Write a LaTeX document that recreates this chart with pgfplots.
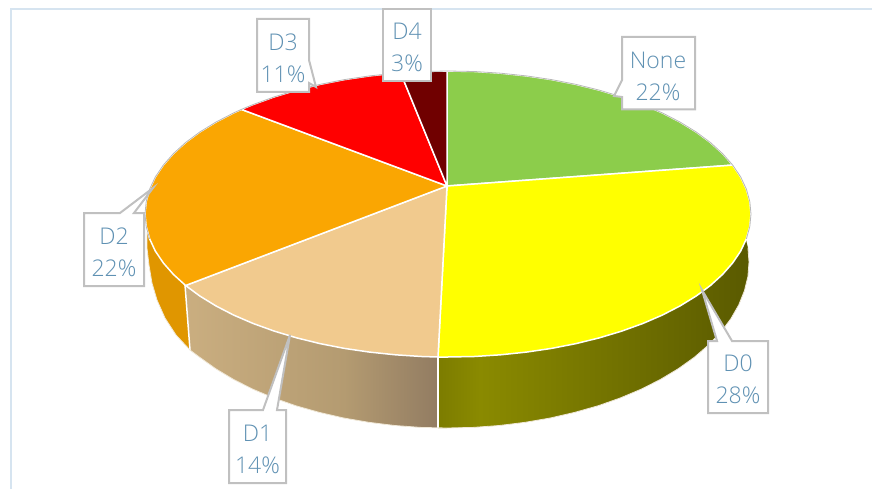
\documentclass[border=0pt]{standalone}
\usepackage{pgfplots}
\pgfplotsset{compat=1.18}
\usepackage{fontspec}
\setmainfont{Open Sans Light}
\definecolor{lbl}{HTML}{5F91B3}
\definecolor{cbx}{HTML}{C0C0C0}
\definecolor{brd}{HTML}{D6E4F0}
\newcommand{\callout}[1]{\addplot[fill=white,draw=cbx,line width=2pt,line join=miter] coordinates {#1} --cycle;}
\newcommand{\lab}[3]{\node[text=lbl,font=\fontsize{23}{26}\selectfont,inner sep=0pt] at (axis cs:#1,#2) {#3};}
\begin{document}
\begin{tikzpicture}
\begin{axis}[
  scale only axis, width=872pt, height=489pt,
  xmin=0, xmax=872, ymin=0, ymax=489, y dir=reverse,
  hide axis, no markers, clip=false]
\path[use as bounding box] (axis cs:0,0) rectangle (axis cs:872,489);
% frame
\addplot[draw=brd,line width=2pt] coordinates {(11,489)(11,9)(872,9)};
% D0 side
\addplot[left color={rgb,255:red,124;green,124;blue,0},right color={rgb,255:red,138;green,138;blue,0},draw=none] coordinates {
 (438,300)(480,300)(480,426.9)(473.3,427.4)(447,428)(438,428)} --cycle;
\addplot[left color={rgb,255:red,138;green,138;blue,0},middle color={rgb,255:red,102;green,98;blue,0},right color={rgb,255:red,90;green,90;blue,0},draw=none] coordinates {
 (480,300)(744.4,233.2)(747.9,247.5)(749,262)(747.9,276.5)(744.4,290.8)(738.7,305)(730.8,318.8)(720.7,332.2)(708.5,345)(694.4,357.2)(678.3,368.7)(660.5,379.4)(641.1,389.2)(620.2,398)(598,405.8)(574.6,412.4)(550.3,418)(525.2,422.3)(499.4,425.5)(480,426.9)} --cycle;
% D1 side
\addplot[left color={rgb,255:red,180;green,155;blue,113},right color={rgb,255:red,146;green,124;blue,98},draw=none] coordinates {
 (343.7,330)(438,340)(438,428)(420.7,427.4)(394.6,425.5)(368.8,422.3)(343.7,418)} --cycle;
\addplot[left color={rgb,255:red,202;green,174;blue,128},right color={rgb,255:red,180;green,155;blue,113},draw=none] coordinates {
 (343.7,330)(253,310)(185.6,285.5)(190,350)(199.6,357.2)(215.7,368.7)(233.5,379.4)(252.9,389.2)(273.8,398)(296,405.8)(319.4,412.4)(343.7,418)} --cycle;
% D2 side
\addplot[fill={rgb,255:red,224;green,150;blue,0},draw=none] coordinates {
  (300,214)(185.6,285.5)(190,350)(176,335)(165,318)(157,300)(152,283)(149,265)(147,248)(147,232)} --cycle;
% side dividers
\addplot[draw=white,line width=1.5pt] coordinates {(438,357)(438,428)};
\addplot[draw=white,line width=1.5pt] coordinates {(185,285)(190,350)};
% outer rim of the side
\addplot[draw={rgb,255:red,240;green,232;blue,215},line width=.8pt] coordinates {(747.9,247.5)(749,262)(747.9,276.5)(744.4,290.8)(738.7,305)(730.8,318.8)(720.7,332.2)(708.5,345)(694.4,357.2)(678.3,368.7)(660.5,379.4)(641.1,389.2)(620.2,398)(598,405.8)(574.6,412.4)(550.3,418)(525.2,422.3)(499.4,425.5)(473.3,427.4)(447,428)(420.7,427.4)(394.6,425.5)(368.8,422.3)(343.7,418)(319.4,412.4)(296,405.8)(273.8,398)(252.9,389.2)(233.5,379.4)(215.7,368.7)(199.6,357.2)(190,350)(176,335)(165,318)(157,300)(152,283)(149,265)(147,248)(147,232)};
% None
\addplot[fill={rgb,255:red,140;green,205;blue,75},draw=white,line width=1.5pt] coordinates {
 (447,186)(447,71)(474.4,71.5)(500.6,73.2)(526.4,75.9)(551.6,79.6)(576.1,84.4)(599.5,90.2)(621.8,96.9)(642.8,104.5)(662.3,112.9)(680.1,122.1)(696.2,132)(710.4,142.5)(722.6,153.6)(732.7,165.1)} --cycle;
% D0
\addplot[fill={rgb,255:red,255;green,255;blue,0},draw=white,line width=1.5pt] coordinates {
 (447,186)(732.7,165.1)(740.7,177)(746.4,189.2)(749.8,201.5)(751,214)(749.8,226.5)(746.4,238.8)(740.7,251)(732.7,262.9)(722.6,274.4)(710.4,285.5)(696.2,296)(680.1,305.9)(662.3,315.1)(642.8,323.5)(621.8,331.1)(599.5,337.8)(576.1,343.6)(551.6,348.4)(526.4,352.1)(500.6,354.8)(474.4,356.5)(448,357)(438,357)} --cycle;
% D1
\addplot[fill={rgb,255:red,241;green,202;blue,142},draw=white,line width=1.5pt] coordinates {
 (447,186)(438,357)(421.6,356.5)(395.4,354.8)(369.6,352.1)(344.4,348.4)(319.9,343.6)(296.5,337.8)(274.2,331.1)(253.2,323.5)(233.7,315.1)(215.9,305.9)(199.8,296)(185.6,285.5)} --cycle;
% D2
\addplot[fill={rgb,255:red,250;green,166;blue,2},draw=white,line width=1.5pt] coordinates {
 (447,186)(185.6,285.5)(173.4,274.4)(163.3,262.9)(155.3,251)(149.6,238.8)(146.2,226.5)(145,214)(146.2,201.5)(149.6,189.2)(155.3,177)(163.3,165.1)(173.4,153.6)(185.6,142.5)(199.8,132)(215.9,122.1)(233.7,112.9)(241.4,109.4)} --cycle;
% D3
\addplot[fill={rgb,255:red,255;green,0;blue,0},draw=white,line width=1.5pt] coordinates {
 (447,186)(241.4,109.4)(253.2,104.5)(274.2,96.9)(296.5,90.2)(319.9,84.4)(344.4,79.6)(369.6,75.9)(395.4,73.2)(400.6,72.8)} --cycle;
% D4
\addplot[fill={rgb,255:red,112;green,0;blue,0},draw=white,line width=1.5pt] coordinates {
 (447,186)(400.6,72.8)(421.6,71.5)(447,71)} --cycle;
% grey rim
\addplot[draw={rgb,255:red,184;green,184;blue,184},line width=.8pt] coordinates {
 (149.6,238.8)(146.2,226.5)(145,214)(146.2,201.5)(149.6,189.2)(155.3,177)(163.3,165.1)(173.4,153.6)(185.6,142.5)(199.8,132)(215.9,122.1)(233.7,112.9)(241.4,109.4)(253.2,104.5)(274.2,96.9)(296.5,90.2)(319.9,84.4)(344.4,79.6)(369.6,75.9)(395.4,73.2)(421.6,71.5)(448,71)(474.4,71.5)(500.6,73.2)(526.4,75.9)(551.6,79.6)(576.1,84.4)(599.5,90.2)(621.8,96.9)(642.8,104.5)(662.3,112.9)(680.1,122.1)(696.2,132)(710.4,142.5)(722.6,153.6)(732.7,165.1)(740.7,177)(746.4,189.2)(749.8,201.5)(751,214)(749.8,226.5)(746.4,238.8)};
% callouts
\callout{(622,37)(695,37)(695,109.5)(622,109.5)(622,97)(614,96)(622,80)}
\callout{(383,9)(431,9)(431,81)(383,81)}
\callout{(257,19)(309,19)(309,60)(316,87)(309,83)(309,92)(257,92)}
\callout{(84,213)(120,213)(153,188)(134,213)(144,213)(144,286)(84,286)}
\callout{(229,410)(263,410)(290,335)(277,410)(286,410)(286,483)(229,483)}
\callout{(708,341)(717,341)(702,290)(732,341)(768,341)(768,413)(708,413)}
\lab{658}{60}{None}\lab{658}{92}{22\%}
\lab{407}{31.5}{D4}\lab{407}{63.5}{3\%}
\lab{283}{42.5}{D3}\lab{283}{74.5}{11\%}
\lab{114}{236.5}{D2}\lab{114}{268.5}{22\%}
\lab{257.5}{433.5}{D1}\lab{257.5}{465.5}{14\%}
\lab{738}{363.5}{D0}\lab{738}{395.5}{28\%}
\end{axis}
\end{tikzpicture}
\end{document}
